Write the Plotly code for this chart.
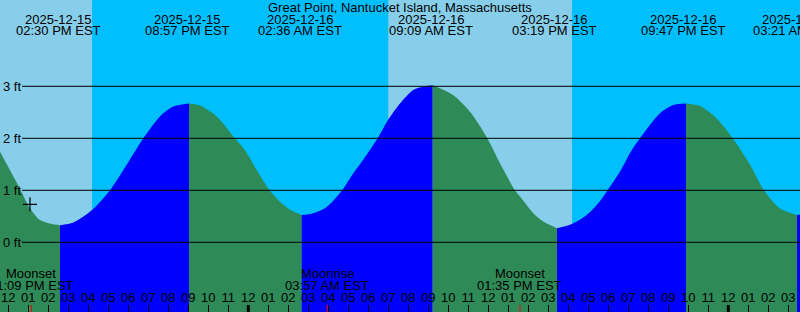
import plotly.graph_objects as go
import pandas as pd

# ---------------- data ----------------
base = pd.Timestamp("2025-12-15 12:00")
view_start_h = -0.415
view_end_h = 39.585

# tide curve, hours after 2025-12-15 12:00 EST, height in ft
tide_hours = [-0.415, 0.62, 1.085, 1.585, 2.335, 2.585,
              3.25, 4.185, 5.085, 5.92, 6.75, 7.585, 8.25, 9.035,
              9.585, 10.42, 11.335, 11.835, 12.42, 13.085, 13.75, 14.25, 14.67,
              15.25, 15.92, 16.67, 17.25, 17.585, 18.47, 18.985, 19.585, 20.25, 20.85, 21.22,
              22.25, 23.085, 23.95, 24.585, 25.335, 25.585, 26.25, 26.75, 27.435,
              28.17, 28.92, 29.5, 29.95, 30.585, 31.17, 31.585, 32.585, 33.25, 33.885,
              34.585, 35.42, 36.22, 37.085, 37.785, 38.585, 39.435,
              39.585]
tide_ft = [1.74, 1.00, 0.65, 0.43, 0.34, 0.33,
           0.38, 0.62, 1.00, 1.49, 2.00, 2.42, 2.61, 2.67,
           2.63, 2.42, 2.00, 1.77, 1.39, 0.99, 0.72, 0.59, 0.525,
           0.56, 0.68, 0.99, 1.33, 1.50, 2.00, 2.35, 2.67, 2.93, 3.00, 3.02,
           2.83, 2.51, 2.00, 1.52, 1.00, 0.88, 0.56, 0.40, 0.27,
           0.35, 0.525, 0.75, 0.99, 1.36, 1.77, 2.00, 2.48, 2.64, 2.67,
           2.62, 2.38, 2.00, 1.49, 1.00, 0.65, 0.525,
           0.53]

tide_event_times = ["2025-12-15 14:30", "2025-12-15 20:57", "2025-12-16 02:36",
                    "2025-12-16 09:09", "2025-12-16 15:19", "2025-12-16 21:47",
                    "2025-12-17 03:21"]
tide_event_dates = ["2025-12-15", "2025-12-15", "2025-12-16", "2025-12-16",
                    "2025-12-16", "2025-12-16", "2025-12-17"]
tide_event_clock = ["02:30 PM EST", "08:57 PM EST", "02:36 AM EST", "09:09 AM EST",
                    "03:19 PM EST", "09:47 PM EST", "03:21 AM EST"]

night_starts = ["2025-12-15 16:11", "2025-12-16 16:11"]
night_ends = ["2025-12-16 07:00", "2025-12-17 07:01"]

moon_times = ["2025-12-15 13:09", "2025-12-16 03:57", "2025-12-16 13:35", "2025-12-17 05:02"]
moon_kinds = ["Moonset", "Moonrise", "Moonset", "Moonrise"]
moon_clock = ["01:09 PM EST", "03:57 AM EST", "01:35 PM EST", "05:02 AM EST"]

midnights = ["2025-12-16 00:00", "2025-12-17 00:00"]

now_time = "2025-12-15 13:05"
now_ft = 0.73

grid_ft = [0, 1, 2, 3]
grid_labels = ["0 ft", "1 ft", "2 ft", "3 ft"]

title_text = "Great Point, Nantucket Island, Massachusetts"

# ---------------- style ----------------
W, H = 800, 312
DAY = "#87CEEB"
NIGHT = "#00BFFF"
RISE = "#0000FF"
FALL = "#2E8B57"
FONT = "Liberation Sans, Arial, sans-serif"
FS = 13
PX_PER_FT = 52.0
ZERO_PX = 242.3
y_top = ZERO_PX / PX_PER_FT
y_bot = -(H - ZERO_PX) / PX_PER_FT


def py(p):
    return 1 - p / H


times = [base + pd.Timedelta(hours=h) for h in tide_hours]

# split into monotone segments at local extremes
ext = [0]
for i in range(1, len(tide_ft) - 1):
    if (tide_ft[i] - tide_ft[i - 1]) * (tide_ft[i + 1] - tide_ft[i]) < 0:
        ext.append(i)
ext.append(len(tide_ft) - 1)

fig = go.Figure()
for a, b in zip(ext[:-1], ext[1:]):
    xs = times[a:b + 1]
    ys = tide_ft[a:b + 1]
    color = RISE if ys[-1] > ys[0] else FALL
    fig.add_trace(go.Scatter(x=[xs[0], xs[-1]], y=[y_bot - 0.2, y_bot - 0.2],
                             mode="lines", line=dict(width=0), hoverinfo="skip",
                             showlegend=False))
    fig.add_trace(go.Scatter(x=xs, y=ys, mode="lines",
                             line=dict(width=0, shape="spline", smoothing=0.8, color=color),
                             fill="tonexty", fillcolor=color, hoverinfo="skip",
                             showlegend=False))

fig.add_trace(go.Scatter(x=[pd.Timestamp(now_time)], y=[now_ft], mode="markers",
                         marker=dict(symbol="cross-thin", size=10,
                                     line=dict(color="black", width=1.2)),
                         hoverinfo="skip", showlegend=False))

shapes = []
for s, e in zip(night_starts, night_ends):
    shapes.append(dict(type="rect", xref="x", yref="paper", x0=s, x1=e, y0=0, y1=1,
                       fillcolor=NIGHT, line=dict(width=0), layer="below"))
for g in grid_ft:
    shapes.append(dict(type="line", xref="paper", yref="y", x0=22 / W, x1=1, y0=g, y1=g,
                       line=dict(color="black", width=1), layer="above"))
for m in midnights:
    shapes.append(dict(type="line", xref="x", yref="paper", x0=m, x1=m,
                       y0=0, y1=7 / H, line=dict(color="black", width=3), layer="above"))
for m in moon_times:
    shapes.append(dict(type="line", xref="x", yref="paper", x0=m, x1=m,
                       y0=0, y1=7 / H, line=dict(color="red", width=1), layer="above"))

ann = []
for t, d, c in zip(tide_event_times, tide_event_dates, tide_event_clock):
    ann.append(dict(x=t, xref="x", y=py(19.5), yref="paper", text=d, showarrow=False,
                    xanchor="center", yanchor="middle", font=dict(size=FS, color="black")))
    ann.append(dict(x=t, xref="x", y=py(31), yref="paper", text=c, showarrow=False,
                    xanchor="center", yanchor="middle", font=dict(size=FS, color="black")))
for t, k, c in zip(moon_times, moon_kinds, moon_clock):
    ann.append(dict(x=t, xref="x", y=py(273.5), yref="paper", text=k, showarrow=False,
                    xanchor="center", yanchor="middle", font=dict(size=FS, color="black")))
    ann.append(dict(x=t, xref="x", y=py(285), yref="paper", text=c, showarrow=False,
                    xanchor="center", yanchor="middle", font=dict(size=FS, color="black")))
ann.append(dict(x=0.5, xref="paper", y=py(7.5), yref="paper", text=title_text,
                showarrow=False, xanchor="center", yanchor="middle",
                font=dict(size=FS, color="black")))
for g, lab in zip(grid_ft, grid_labels):
    ann.append(dict(x=1 / W, xref="paper", y=g, yref="y", text=lab, showarrow=False,
                    xanchor="left", yanchor="middle", font=dict(size=FS, color="black")))

fig.update_layout(
    width=W, height=H, margin=dict(l=0, r=0, t=0, b=0, pad=0),
    paper_bgcolor=DAY, plot_bgcolor=DAY,
    font=dict(family=FONT, size=FS, color="black"),
    showlegend=False, shapes=shapes, annotations=ann,
    xaxis=dict(type="date",
               range=[base + pd.Timedelta(hours=view_start_h), base + pd.Timedelta(hours=view_end_h)],
               showgrid=False, zeroline=False, showline=False,
               ticks="inside", ticklen=7, tickwidth=1, tickcolor="black",
               tick0="2025-12-15 00:00", dtick=3600000, tickformat="%I",
               ticklabelposition="inside", tickfont=dict(size=FS, color="black"),
               fixedrange=True),
    yaxis=dict(range=[y_bot, y_top], showgrid=False, zeroline=False, showline=False,
               showticklabels=False, ticks="", fixedrange=True),
)

fig.write_html("out.html", config={"displayModeBar": False, "staticPlot": True})
